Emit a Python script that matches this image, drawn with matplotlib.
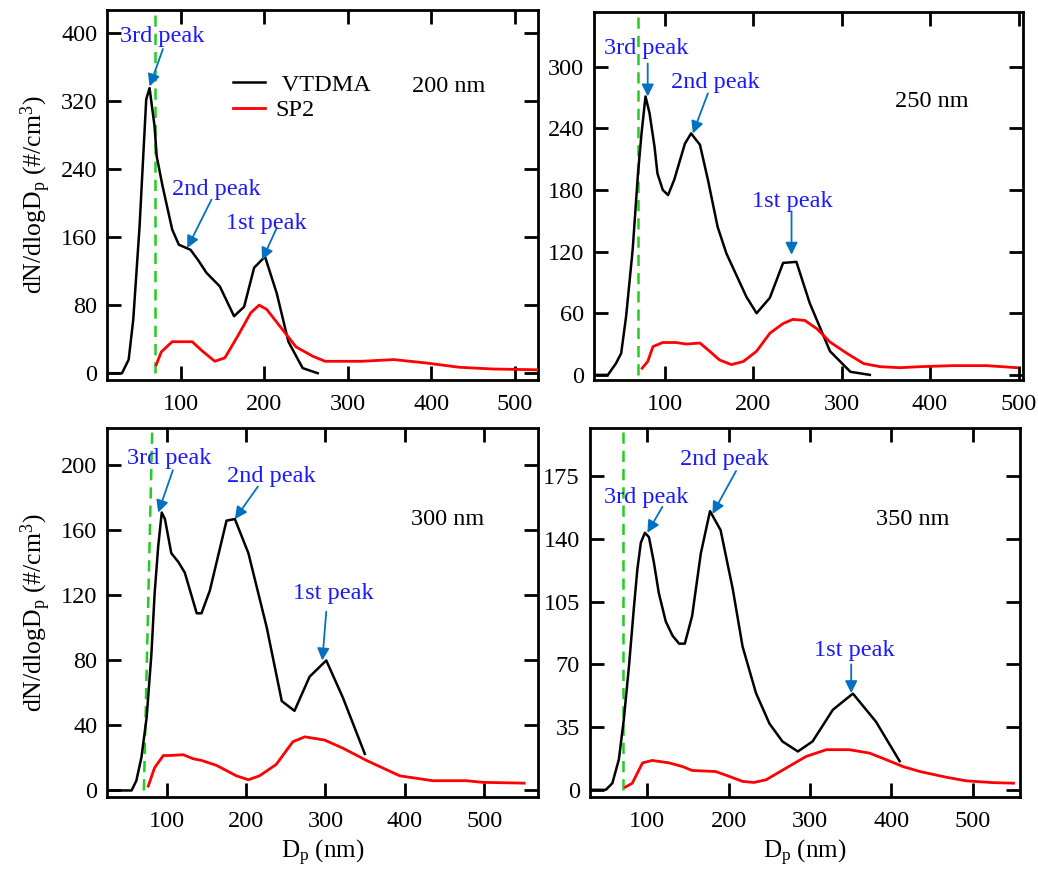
import matplotlib
matplotlib.use("Agg")
import matplotlib.pyplot as plt

plt.rcParams["font.family"] = ["Liberation Serif", "DejaVu Serif"]
plt.rcParams["mathtext.fontset"] = "custom"
plt.rcParams["mathtext.rm"] = "Liberation Serif"
plt.rcParams["mathtext.it"] = "Liberation Serif:italic"

# ---- data ----
# 200 nm
vt200_x = [12, 30, 38, 43.5, 51, 59, 63, 69, 71.5, 78.5, 90, 98, 112, 121, 131, 147, 164, 176, 188, 201, 215, 229, 246, 264]
vt200_y = [0, 0, 16, 63, 172, 322, 335, 290, 255, 220, 169, 151, 145, 133, 118, 102, 67, 78, 124, 137, 94, 37, 6, 0]
sp200_x = [71, 77, 90, 114, 125, 141, 153, 168, 184, 194, 203, 219, 238, 258, 273, 316, 355, 394, 433, 472, 527]
sp200_y = [10, 25, 37, 37, 27, 14, 18, 43, 71, 80, 75, 55, 31, 20, 14, 14, 16, 12, 7, 5, 4]

# 250 nm
vt250_x = [21, 36, 45, 51, 56.6, 64, 70, 74, 78.5, 83, 88.7, 92, 98, 104, 111, 123, 130, 140, 149, 160, 170, 192.5, 204, 219, 234, 249, 264, 287, 310, 332]
vt250_y = [0, 0, 11, 21, 57, 122, 196, 235, 271, 255, 222, 196, 180, 175, 190, 225, 235, 224, 190, 144, 118, 76, 60, 75, 109, 110, 70, 23, 3, 0]
sp250_x = [74.7, 81, 87, 98, 113, 124.5, 140, 151, 162, 175.5, 189, 204, 219, 234, 245, 258.5, 272, 287, 306, 325, 343.5, 366, 389, 426.5, 464, 498]
sp250_y = [6.5, 13, 27.6, 31.5, 31.5, 30, 31, 23, 14.6, 10, 13, 23, 40.5, 50, 54, 53, 45, 32, 21, 11, 8, 7, 8, 9, 9, 7]

# 300 nm
vt300_x = [27, 56, 62, 68.5, 75, 81, 85, 89.5, 94, 98, 106, 115, 123, 138, 144, 154.5, 175.5, 186, 203, 226, 245, 261, 280, 301, 322, 349.5]
vt300_y = [0, 0, 6, 20.5, 45, 84, 121, 150, 171, 167, 146, 140.5, 134, 109, 109, 123, 166, 167, 146, 100.5, 55, 49, 70, 80, 57, 22.5]
sp300_x = [77, 85, 96, 104, 121, 133.5, 144, 163, 188, 203, 217, 238, 259, 274, 299, 322, 351.5, 393.5, 435, 477, 498, 550]
sp300_y = [2.7, 14, 21.5, 21.5, 22, 19.5, 18.5, 15.4, 9, 6.6, 9, 16, 30, 33, 31, 26, 18.5, 9, 6, 6, 5, 4.5]

# 350 nm
vt350_x = [30, 49, 57, 65, 71, 77.4, 83.6, 87.7, 92, 97, 102, 108, 114, 122.6, 131, 139, 146, 155, 165.7, 177, 190, 205, 217, 233.5, 250, 266, 285, 303, 328, 352.6, 381, 410]
vt350_y = [0, 0, 3.7, 17, 39, 69, 102.5, 123, 138, 143.5, 141, 127, 110, 94, 86, 81.6, 81.6, 97, 132, 155.6, 145, 112, 80, 54, 37, 27, 21.4, 27, 44.7, 53.7, 38, 16]
sp350_x = [73, 81.5, 94, 106, 127, 143, 155, 184, 200.6, 217, 231, 246, 270, 295, 320, 348, 373, 393.6, 414, 435, 467.5, 492, 525, 550]
sp350_y = [1.5, 3.7, 15, 16.4, 15, 13, 10.8, 10.2, 7.5, 4.7, 4.1, 5.6, 12, 18.6, 22.4, 22.4, 20.5, 16.8, 13, 10.2, 7, 5, 4, 3.7]

sizes = ["200 nm", "250 nm", "300 nm", "350 nm"]
y_ticks = [
    [0, 80, 160, 240, 320, 400],
    [0, 60, 120, 180, 240, 300],
    [0, 40, 80, 120, 160, 200],
    [0, 35, 70, 105, 140, 175],
]
x_ticks = [100, 200, 300, 400, 500]
peak_names = ["3rd peak", "2nd peak", "1st peak"]

# ---- layout ----
fig = plt.figure(figsize=(10.38, 8.71), dpi=100)
boxes = [
    [0.103, 0.5637, 0.415, 0.425],
    [0.572, 0.5637, 0.4135, 0.4223],
    [0.103, 0.085, 0.415, 0.4236],
    [0.568, 0.085, 0.4147, 0.4236],
]
xlims = [(12, 527), (20, 505), (25, 567), (29, 558)]
ylims = [(-8, 427), (-5, 353), (-4, 223), (-4, 202)]
green = [((70, 70), (0, 427)), ((70.5, 70.5), (0, 353)), ((71.5, 82), (0, 221.5)), ((70.4, 70.4), (0, 202))]
label_pos = [(377, 337), (360, 266), (408, 167), (381, 151)]
# (text x, text y, arrow tail x, tail y, head x, head y)
peaks = [
    [(78.6, 396, 79, 381, 63, 337), (143, 216, 137, 204, 108, 147), (203, 176, 215, 170.6, 197.5, 133)],
    [(79, 318, 81, 303, 81, 271), (157, 285, 149, 274, 132, 235), (244, 169, 243.5, 159, 243.5, 117)],
    [(103, 204, 108, 197, 89.5, 171), (232, 193, 215, 187, 186, 167), (310, 121, 301, 110, 296, 80)],
    [(98, 163, 118.5, 158, 100, 143.5), (195, 184.5, 209, 178, 180, 154), (354, 78, 350.5, 70, 350.5, 54)],
]

series = [
    (vt200_x, vt200_y, sp200_x, sp200_y),
    (vt250_x, vt250_y, sp250_x, sp250_y),
    (vt300_x, vt300_y, sp300_x, sp300_y),
    (vt350_x, vt350_y, sp350_x, sp350_y),
]

fs = 17.5
ylab = r"dN/dlogD$_\mathrm{p}$ (#/cm$^\mathrm{3}$)"

for i, (vx, vy, sx, sy) in enumerate(series):
    ax = fig.add_axes(boxes[i])
    ax.plot(vx, vy, color="black", lw=1.8, label=" VTDMA", zorder=3)
    ax.plot(sx, sy, color="#ff0000", lw=2.0, label="SP2", zorder=3)
    gx, gy = green[i]
    ax.plot(gx, gy, color="#22cc22", lw=1.8, linestyle=(0, (4.5, 2.8)), zorder=2)

    ax.set_xlim(xlims[i])
    ax.set_ylim(ylims[i])
    ax.set_xticks(x_ticks)
    ax.set_yticks(y_ticks[i])
    ax.tick_params(direction="in", length=10, width=2, top=True, right=True,
                   labelsize=fs, pad=7)
    ax.tick_params(axis="x", pad=10)
    for s in ax.spines.values():
        s.set_linewidth(2)

    ax.text(label_pos[i][0], label_pos[i][1], sizes[i], fontsize=fs,
            ha="left", va="center")

    for name, (tx, ty, ax0, ay0, hx, hy) in zip(peak_names, peaks[i]):
        ax.annotate("", xy=(hx, hy), xytext=(ax0, ay0),
                    arrowprops=dict(arrowstyle="-|>", color="#0070c0", lw=1.3,
                                    mutation_scale=18, shrinkA=0, shrinkB=0),
                    zorder=4)
        ax.text(tx, ty, name, color="#1a1aff", fontsize=fs, ha="center",
                va="center", zorder=5)

    if i in (0, 2):
        ax.set_ylabel(ylab, fontsize=18.5)
        ax.yaxis.set_label_coords(-0.125, 0.5)
    if i in (2, 3):
        ax.set_xlabel(r"D$_\mathrm{p}$ (nm)", fontsize=18, labelpad=4)
    if i == 0:
        ax.legend(loc="upper left", bbox_to_anchor=(0.265, 0.86), frameon=False,
                  fontsize=fs, handlelength=1.3, handletextpad=0.45,
                  labelspacing=0.15, borderpad=0)

fig.savefig("out.png", dpi=100)
